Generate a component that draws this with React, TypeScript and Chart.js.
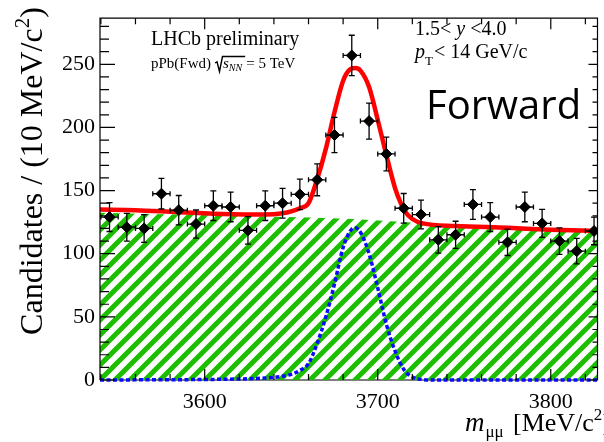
import { useEffect, useRef } from "react";
import { Chart, registerables } from "chart.js";

Chart.register(...registerables);

const SERIF = '"Liberation Serif", "Times New Roman", serif';
const SANS = '"Open Sans", "Liberation Sans", sans-serif';

// Axis ranges and tick labels
const X_MIN = 3539.5;
const X_MAX = 3827;
const Y_MIN = 0;
const Y_MAX = 286.5;
const xTickValues = [3600, 3700, 3800];
const yTickValues = [0, 50, 100, 150, 200, 250];

// Binned dimuon mass data (10 MeV bins)
const binCenters = [
  3545, 3555, 3565, 3575, 3585, 3595, 3605, 3615, 3625, 3635, 3645, 3655, 3665, 3675, 3685,
  3695, 3705, 3715, 3725, 3735, 3745, 3755, 3765, 3775, 3785, 3795, 3805, 3815, 3825,
];
const counts = [
  129, 121, 120, 147.5, 134.5, 123.5, 138, 137, 118.5, 138, 140, 147, 158.5, 194, 257,
  205, 179, 136, 131, 111, 115, 139, 129, 109, 137, 124, 110, 102, 118,
];
const countErrors = [
  11.4, 11, 11, 12.1, 11.6, 11.1, 11.7, 11.7, 10.9, 11.7, 11.8, 12.1, 12.6, 13.9, 16,
  14.3, 13.4, 11.7, 11.4, 10.5, 10.7, 11.8, 11.4, 10.4, 11.7, 11.1, 10.5, 10.1, 10.9,
];
const binHalfWidth = 5;

// Total fit (signal + background)
const totalMass = [
  3539.5, 3560, 3585, 3610, 3635, 3645, 3650, 3655, 3660, 3665, 3670, 3675, 3680, 3684,
  3687, 3690, 3695, 3700, 3705, 3710, 3713, 3716, 3720, 3726, 3745, 3775, 3800, 3827,
];
const totalFit = [
  135, 134.5, 132.8, 131.5, 131, 132, 133.5, 136, 140, 159, 183, 212, 237, 246,
  247, 245, 232, 206, 178, 152, 141, 133, 127.5, 124, 122, 120.5, 119, 118,
];

// Signal component
const signalMass = [
  3539.5, 3600, 3620, 3635, 3645, 3650, 3655, 3660, 3665, 3670, 3675, 3680, 3685, 3687,
  3690, 3695, 3700, 3705, 3710, 3715, 3720, 3725, 3730, 3827,
];
const signalFit = [
  0, 0.4, 0.8, 1.6, 3, 4.5, 7.5, 13, 29, 50, 76, 105, 119.5, 120.5,
  117, 100, 73, 44, 23, 8.5, 2.3, 0.5, 0, 0,
];

// Background component (hatched)
const bgMass = [3539.5, 3585, 3635, 3686, 3710, 3745, 3785, 3827];
const bgFit = [132.5, 131, 129.5, 127.5, 125.5, 122.5, 120.5, 118.5];

const pairs = (xs: number[], ys: number[]) => xs.map((x, i) => ({ x, y: ys[i] }));

function makeHatch(color: string, size: number, width: number) {
  const c = document.createElement("canvas");
  c.width = size;
  c.height = size;
  const g = c.getContext("2d")!;
  g.strokeStyle = color;
  g.lineWidth = width;
  g.beginPath();
  g.moveTo(-1, size + 1);
  g.lineTo(size + 1, -1);
  g.moveTo(-size / 2 - 1, size / 2 + 1);
  g.lineTo(size / 2 + 1, -size / 2 - 1);
  g.moveTo(size / 2 - 1, size * 1.5 + 1);
  g.lineTo(size * 1.5 + 1, size / 2 - 1);
  g.stroke();
  return g.createPattern(c, "repeat")!;
}

type Run = { text: string; font: string; dy?: number };

function drawRuns(ctx: CanvasRenderingContext2D, x: number, y: number, runs: Run[]) {
  let cx = x;
  for (const r of runs) {
    ctx.font = r.font;
    ctx.fillText(r.text, cx, y + (r.dy || 0));
    cx += ctx.measureText(r.text).width;
  }
  return cx;
}

function runsWidth(ctx: CanvasRenderingContext2D, runs: Run[]) {
  let w = 0;
  for (const r of runs) {
    ctx.font = r.font;
    w += ctx.measureText(r.text).width;
  }
  return w;
}

const errorBars = {
  id: "errorBars",
  beforeDatasetsDraw(chart: any) {
    // bottom axis line sits beneath the curves so the dashed signal shows on it
    const { ctx, chartArea } = chart;
    ctx.save();
    ctx.strokeStyle = "#000";
    ctx.lineWidth = 1.2;
    ctx.beginPath();
    ctx.moveTo(chartArea.left, chartArea.bottom);
    ctx.lineTo(chartArea.right, chartArea.bottom);
    ctx.stroke();
    ctx.restore();
  },
  afterDatasetsDraw(chart: any) {
    const { ctx, chartArea, scales } = chart;
    const xs = scales.x;
    const ys = scales.y;
    ctx.save();
    ctx.beginPath();
    ctx.rect(chartArea.left, chartArea.top, chartArea.right - chartArea.left, chartArea.bottom - chartArea.top);
    ctx.clip();
    ctx.strokeStyle = "#000";
    ctx.lineWidth = 1.3;
    binCenters.forEach((m, i) => {
      const px = xs.getPixelForValue(m);
      const py = ys.getPixelForValue(counts[i]);
      const top = ys.getPixelForValue(counts[i] + countErrors[i]);
      const bot = ys.getPixelForValue(counts[i] - countErrors[i]);
      const l = xs.getPixelForValue(m - binHalfWidth);
      const r = xs.getPixelForValue(m + binHalfWidth);
      ctx.beginPath();
      ctx.moveTo(px, top);
      ctx.lineTo(px, bot);
      ctx.moveTo(px - 3, top);
      ctx.lineTo(px + 3, top);
      ctx.moveTo(px - 3, bot);
      ctx.lineTo(px + 3, bot);
      ctx.moveTo(l, py);
      ctx.lineTo(r, py);
      ctx.moveTo(l, py - 2.5);
      ctx.lineTo(l, py + 2.5);
      ctx.moveTo(r, py - 2.5);
      ctx.lineTo(r, py + 2.5);
      ctx.stroke();
    });
    ctx.restore();
  },
};

const frameAndText = {
  id: "frameAndText",
  afterDraw(chart: any) {
    const { ctx, chartArea, scales } = chart;
    const { left, right, top, bottom } = chartArea;
    const xs = scales.x;
    const ys = scales.y;
    ctx.save();
    ctx.strokeStyle = "#000";
    ctx.lineWidth = 1.2;
    ctx.beginPath();
    ctx.moveTo(left, bottom);
    ctx.lineTo(left, top);
    ctx.lineTo(right, top);
    ctx.lineTo(right, bottom);
    ctx.stroke();

    ctx.beginPath();
    // x ticks (bottom and top), minor every 20, major every 100
    for (let v = 3540; v <= X_MAX; v += 20) {
      const px = xs.getPixelForValue(v);
      const major = v % 100 === 0;
      const len = major ? 11 : 6;
      ctx.moveTo(px, bottom);
      ctx.lineTo(px, bottom - len);
      ctx.moveTo(px, top);
      ctx.lineTo(px, top + len);
    }
    // y ticks (left and right), minor every 10, major every 50
    for (let v = 0; v <= Y_MAX; v += 10) {
      const py = ys.getPixelForValue(v);
      const major = v % 50 === 0;
      ctx.moveTo(left, py);
      ctx.lineTo(left + (major ? 15 : 9), py);
      ctx.moveTo(right, py);
      ctx.lineTo(right - (major ? 9 : 5), py);
    }
    ctx.stroke();

    ctx.fillStyle = "#000";
    ctx.textAlign = "left";
    ctx.textBaseline = "alphabetic";

    // Experiment label
    ctx.font = `20px ${SERIF}`;
    ctx.fillText("LHCb preliminary", 151, 45);
    ctx.font = `15px ${SERIF}`;
    ctx.fillText("pPb(Fwd)", 151, 67.5);
    const sx = 151 + ctx.measureText("pPb(Fwd)").width + 4;
    ctx.font = `italic 15px ${SERIF}`;
    const sW = ctx.measureText("s").width;
    ctx.font = `italic 10px ${SERIF}`;
    const nnW = ctx.measureText("NN").width;
    ctx.lineWidth = 1.4;
    ctx.beginPath();
    ctx.moveTo(sx, 63);
    ctx.lineTo(sx + 2, 61.8);
    ctx.lineTo(sx + 4.5, 71.5);
    ctx.lineTo(sx + 7.5, 56.5);
    ctx.lineTo(sx + 9 + sW + nnW + 2, 56.5);
    ctx.stroke();
    let cx = drawRuns(ctx, sx + 8, 67.5, [
      { text: "s", font: `italic 15px ${SERIF}` },
      { text: "NN", font: `italic 10px ${SERIF}`, dy: 3.5 },
    ]);
    drawRuns(ctx, cx + 4, 67.5, [{ text: "= 5 TeV", font: `15px ${SERIF}` }]);

    // Kinematic range
    drawRuns(ctx, 415, 35, [
      { text: "1.5< ", font: `20px ${SERIF}` },
      { text: "y", font: `italic 20px ${SERIF}` },
      { text: " <4.0", font: `20px ${SERIF}` },
    ]);
    drawRuns(ctx, 415, 58, [
      { text: "p", font: `italic 20px ${SERIF}` },
      { text: "T", font: `13px ${SERIF}`, dy: 7 },
    ]);
    ctx.font = `20px ${SERIF}`;
    ctx.fillText("< 14 GeV/c", 434, 58);

    ctx.font = `40px ${SANS}`;
    ctx.fillText("Forward", 426, 119);

    // y-axis title
    const yRuns: Run[] = [
      { text: "Candidates / (10 MeV/c", font: `32px ${SERIF}` },
      { text: "2", font: `21px ${SERIF}`, dy: -13 },
      { text: ")", font: `32px ${SERIF}` },
    ];
    ctx.save();
    ctx.translate(42, 171);
    ctx.rotate(-Math.PI / 2);
    drawRuns(ctx, -runsWidth(ctx, yRuns) / 2, 0, yRuns);
    ctx.restore();

    // x-axis title
    cx = drawRuns(ctx, 465, 431, [{ text: "m", font: `italic 27px ${SERIF}` }]);
    cx = drawRuns(ctx, cx + 1, 437, [{ text: "μμ", font: `17px ${SERIF}` }]);
    drawRuns(ctx, 513, 431, [
      { text: "[MeV/c", font: `26px ${SERIF}` },
      { text: "2", font: `17px ${SERIF}`, dy: -11 },
      { text: "]", font: `26px ${SERIF}` },
    ]);
    ctx.restore();
  },
};

export default function App() {
  const ref = useRef<HTMLCanvasElement>(null);

  useEffect(() => {
    const canvas = ref.current!;
    const hatch = makeHatch("#1cbf00", 15, 5);
    const chart = new Chart(canvas, {
      type: "line",
      data: {
        datasets: [
          {
            label: "data",
            data: pairs(binCenters, counts),
            showLine: false,
            pointStyle: "rectRot",
            pointRadius: 5.5,
            backgroundColor: "#000",
            borderColor: "#000",
            order: 1,
          },
          {
            label: "total",
            data: pairs(totalMass, totalFit),
            borderColor: "#ff0000",
            borderWidth: 4.5,
            pointRadius: 0,
            cubicInterpolationMode: "monotone",
            fill: false,
            order: 2,
          },
          {
            label: "signal",
            data: pairs(signalMass, signalFit),
            borderColor: "#0a0aff",
            borderWidth: 3.5,
            borderDash: [4, 2.5],
            pointRadius: 0,
            cubicInterpolationMode: "monotone",
            fill: false,
            clip: 4,
            order: 3,
          },
          {
            label: "background",
            data: pairs(bgMass, bgFit),
            borderWidth: 0,
            borderColor: "rgba(0,0,0,0)",
            backgroundColor: hatch,
            pointRadius: 0,
            cubicInterpolationMode: "monotone",
            fill: "origin",
            order: 4,
          },
        ],
      },
      options: {
        animation: false,
        responsive: false,
        devicePixelRatio: 1,
        events: [],
        layout: { padding: { top: 7, right: 1, left: 0, bottom: 0 } },
        plugins: { legend: { display: false }, tooltip: { enabled: false } },
        scales: {
          x: {
            type: "linear",
            min: X_MIN,
            max: X_MAX,
            grid: { display: false, drawTicks: false },
            border: { display: false },
            ticks: {
              font: { family: SERIF, size: 22 },
              color: "#000",
              padding: 9,
              maxRotation: 0,
              autoSkip: false,
              callback: (v: any) => String(v),
            },
            afterBuildTicks: (s: any) => {
              s.ticks = xTickValues.map((value) => ({ value }));
            },
            afterFit: (s: any) => {
              s.height = 62;
            },
          },
          y: {
            type: "linear",
            min: Y_MIN,
            max: Y_MAX,
            grid: { display: false, drawTicks: false },
            border: { display: false },
            ticks: {
              font: { family: SERIF, size: 22 },
              color: "#000",
              padding: 5,
              autoSkip: false,
              callback: (v: any) => String(v),
            },
            afterBuildTicks: (s: any) => {
              s.ticks = yTickValues.map((value) => ({ value }));
            },
            afterFit: (s: any) => {
              s.width = 100;
            },
          },
        },
      },
      plugins: [errorBars, frameAndText],
    });
    return () => chart.destroy();
  }, []);

  return (
    <div style={{ position: "fixed", left: 0, top: 0, width: 604, height: 442, background: "#fff" }}>
      <canvas ref={ref} width={604} height={442} style={{ display: "block" }} />
    </div>
  );
}
